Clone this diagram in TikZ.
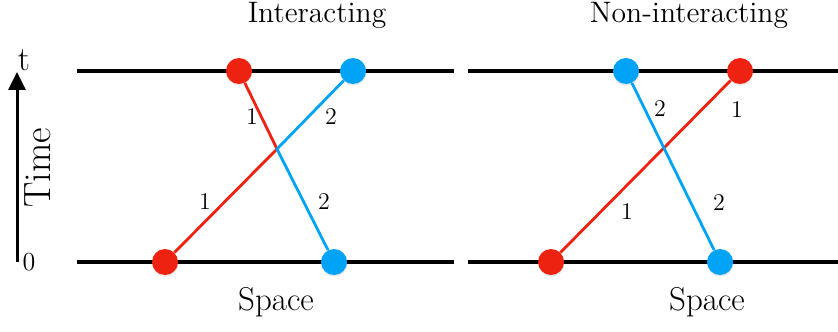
\documentclass[tikz,border=0pt]{standalone}
\usetikzlibrary{arrows.meta,shadows}
\definecolor{rojo}{HTML}{EE2211}
\definecolor{celeste}{HTML}{00A3F5}

\begin{document}
\begin{tikzpicture}[x=0.5pt, y=-0.5pt, >={Triangle[length=9pt,width=8.5pt]},
      dot/.style={circle, inner sep=0pt, minimum size=13pt,
                  drop shadow={opacity=0.18, shadow xshift=0.2pt, shadow yshift=-0.8pt}},
      dr/.style={dot, fill=rojo},
      db/.style={dot, fill=celeste},
      ax/.style={line width=1.7pt, black},
      wl/.style={line width=1.4pt},
      num/.style={font=\fontsize{12}{14}\selectfont, inner sep=1pt},
      ttl/.style={font=\fontsize{14.8}{17}\selectfont, anchor=base}]
    \useasboundingbox (0,0) rectangle (838,331);
    % space lines
    \coordinate (al0) at (77,71);   \coordinate (ar0) at (454,71);
    \coordinate (al1) at (77,262);  \coordinate (ar1) at (454,262);
    \coordinate (bl0) at (468,71);  \coordinate (br0) at (838,71);
    \coordinate (bl1) at (468,262); \coordinate (br1) at (838,262);
    \foreach \p/\q in {al0/ar0,al1/ar1,bl0/br0,bl1/br1} \draw[ax] (\p) -- (\q);
    % time axis
    \coordinate (t0) at (17,262);
    \coordinate (t1) at (17,72);
    \draw[->, line width=1.5pt] (t0) -- (t1);
    \node[font=\fontsize{17}{19}\selectfont, inner sep=0pt] (tt) at (24,60) {t};
    \node[font=\fontsize{13}{15}\selectfont, inner sep=0pt] (tz) at (29,262) {0};
    \node[font=\fontsize{19}{21}\selectfont, rotate=90, inner sep=0pt] (time) at (38,168) {Time};

    % interacting
    \node[ttl] (ti) at (317,23) {Interacting};
    \coordinate (xa) at (277,149);
    \node[dr] (ra0) at (165,262) {};
    \node[db] (ba0) at (334,262) {};
    \node[dr] (ra1) at (239,71) {};
    \node[db] (ba1) at (353,71) {};
    \draw[wl, rojo] (ra0) -- (xa) -- (ra1);
    \draw[wl, celeste] (ba0) -- (xa) -- (ba1);
    \node[num] (na1) at (252,117) {1};
    \node[num] (na2) at (331,117) {2};
    \node[num] (na3) at (205,202) {1};
    \node[num] (na4) at (324,202) {2};
    \node[font=\fontsize{16.5}{19}\selectfont] (sa) at (276,302) {Space};

    % non-interacting
    \node[ttl] (tn) at (689,23) {Non-interacting};
    \node[dr] (rb0) at (551,262) {};
    \node[db] (bb0) at (720,262) {};
    \node[db] (bb1) at (626,71) {};
    \node[dr] (rb1) at (740,71) {};
    \draw[wl, rojo] (rb0) -- (rb1);
    \draw[wl, celeste] (bb1) -- (bb0);
    \node[num] (nb1) at (660,109) {2};
    \node[num] (nb2) at (737,110) {1};
    \node[num] (nb3) at (627,212) {1};
    \node[num] (nb4) at (719,203) {2};
    \node[font=\fontsize{16.5}{19}\selectfont] (sb) at (707,302) {Space};
  \end{tikzpicture}
\end{document}
